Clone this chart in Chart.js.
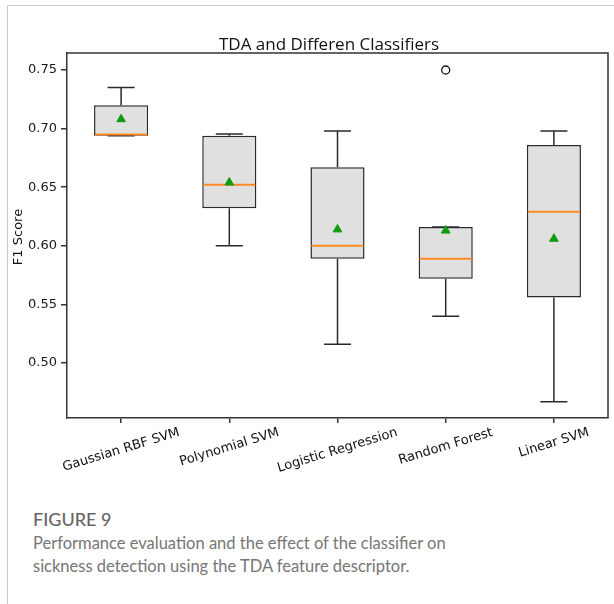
<!DOCTYPE html>
<html>
<head>
<meta charset="utf-8">
<script src="https://cdn.jsdelivr.net/npm/chart.js@4/dist/chart.umd.min.js"></script>
<style>
  body { margin: 0; background: #fff; }
  #page { position: relative; width: 614px; height: 604px; overflow: hidden; }
  #frame { position: absolute; left: 7px; top: 5px; width: 700px; height: 700px;
           border-left: 1.5px solid #cbcbcb; border-top: 1.5px solid #cbcbcb; }
  #boxChart { position: absolute; left: 0; top: 0; }
  #caption { position: absolute; left: 33px; top: 506px; font-family: "Lato", "Open Sans", sans-serif; color: #767676; }
  #caption .fig { font-size: 18px; font-weight: 500; color: #666; line-height: 26px; }
  #caption .txt { font-size: 16.5px; line-height: 23px; }
</style>
</head>
<body>
<div id="page">
  <div id="frame"></div>
  <canvas id="boxChart" width="614" height="490"></canvas>
  <div id="caption">
    <div class="fig">FIGURE 9</div>
    <div class="txt">Performance evaluation and the effect of the classifier on<br>sickness detection using the TDA feature descriptor.</div>
  </div>
</div>
<script>
const categories = ["Gaussian RBF SVM", "Polynomial SVM", "Logistic Regression", "Random Forest", "Linear SVM"];
const whiskerLow = [0.694, 0.600, 0.516, 0.540, 0.467];
const q1 = [0.694, 0.632, 0.589, 0.572, 0.556];
const medians = [0.695, 0.652, 0.600, 0.589, 0.629];
const q3 = [0.720, 0.694, 0.667, 0.616, 0.686];
const whiskerHigh = [0.735, 0.6955, 0.698, 0.616, 0.698];
const means = [0.708, 0.654, 0.614, 0.613, 0.606];
const outliers = [null, null, null, 0.750, null];
const yTicks = [0.50, 0.55, 0.60, 0.65, 0.70, 0.75];

const titleText = "TDA and Differen Classifiers";
const yLabel = "F1 Score";
const tickFont = "13px 'DejaVu Sans'";

// whiskers, caps, medians, frame and rotated labels
const boxPlotExtras = {
  id: "boxPlotExtras",
  afterDatasetDraw(chart, args) {
    if (args.index !== 0) return;
    const { ctx, scales: { x, y } } = chart;
    const bars = args.meta.data;
    ctx.save();
    categories.forEach((c, i) => {
      const cx = x.getPixelForValue(i);
      const half = bars[i].width / 2;
      const capHalf = half / 2;
      const yHi = y.getPixelForValue(whiskerHigh[i]);
      const yLo = y.getPixelForValue(whiskerLow[i]);
      ctx.strokeStyle = "#2a2a2a";
      ctx.lineWidth = 1.5;
      ctx.beginPath();
      ctx.moveTo(cx, y.getPixelForValue(q3[i]));
      ctx.lineTo(cx, yHi);
      ctx.moveTo(cx, y.getPixelForValue(q1[i]));
      ctx.lineTo(cx, yLo);
      ctx.moveTo(cx - capHalf, yHi);
      ctx.lineTo(cx + capHalf, yHi);
      ctx.moveTo(cx - capHalf, yLo);
      ctx.lineTo(cx + capHalf, yLo);
      ctx.stroke();

      const ym = y.getPixelForValue(medians[i]);
      ctx.strokeStyle = "#ff8a24";
      ctx.lineWidth = 2;
      ctx.beginPath();
      ctx.moveTo(cx - half + 1, ym);
      ctx.lineTo(cx + half - 1, ym);
      ctx.stroke();
    });
    ctx.restore();
  },
  afterDraw(chart) {
    const { ctx, chartArea: a, scales: { x } } = chart;
    ctx.save();
    // top and right edges of the axes box
    ctx.strokeStyle = "#333";
    ctx.lineWidth = 1.5;
    ctx.beginPath();
    ctx.moveTo(a.left, a.top);
    ctx.lineTo(a.right, a.top);
    ctx.lineTo(a.right, a.bottom);
    ctx.stroke();

    ctx.fillStyle = "#111";
    ctx.font = "17px 'Open Sans'";
    ctx.textAlign = "center";
    ctx.textBaseline = "alphabetic";
    ctx.fillText(titleText, 329, 50);

    ctx.font = tickFont;
    ctx.save();
    ctx.translate(19, 237);
    ctx.rotate(-Math.PI / 2);
    ctx.textBaseline = "middle";
    ctx.fillText(yLabel, 0, 0);
    ctx.restore();

    const ang = 17 * Math.PI / 180;
    const labelTop = a.bottom + 8;
    categories.forEach((c, i) => {
      const w = ctx.measureText(c).width;
      const h = 13;
      const boxH = w * Math.sin(ang) + h * Math.cos(ang);
      ctx.save();
      ctx.translate(x.getPixelForValue(i), labelTop + boxH / 2);
      ctx.rotate(-ang);
      ctx.textAlign = "center";
      ctx.textBaseline = "middle";
      ctx.fillText(c, 0, 0);
      ctx.restore();
    });
    ctx.restore();
  }
};

const ctx = document.getElementById("boxChart").getContext("2d");
const chart = new Chart(ctx, {
  type: "bar",
  data: {
    labels: categories,
    datasets: [
      {
        label: "box",
        data: categories.map((c, i) => [q1[i], q3[i]]),
        backgroundColor: "#e0e0e0",
        borderColor: "#2a2a2a",
        borderWidth: 1.5,
        borderSkipped: false,
        barPercentage: 0.5,
        categoryPercentage: 1,
        order: 3
      },
      {
        type: "line",
        label: "mean",
        data: means,
        showLine: false,
        pointStyle: "triangle",
        pointRadius: 5,
        pointBackgroundColor: "#109c10",
        pointBorderColor: "#109c10",
        pointBorderWidth: 1,
        order: 1
      },
      {
        type: "line",
        label: "outliers",
        data: outliers,
        showLine: false,
        pointStyle: "circle",
        pointRadius: 4,
        pointBackgroundColor: "#fff",
        pointBorderColor: "#111",
        pointBorderWidth: 1.3,
        order: 2
      }
    ]
  },
  options: {
    responsive: false,
    animation: false,
    layout: { padding: { left: 0, top: 53, right: 2, bottom: 0 } },
    plugins: {
      legend: { display: false },
      tooltip: { enabled: false },
      title: { display: false }
    },
    scales: {
      x: {
        offset: true,
        grid: { offset: false, drawOnChartArea: false, drawTicks: true, tickLength: 5, color: "#333", lineWidth: 1.5 },
        border: { display: true, color: "#333", width: 1.5 },
        ticks: { display: false },
        afterFit: scale => { scale.height = 72; }
      },
      y: {
        min: 0.4531,
        max: 0.7645,
        afterBuildTicks: scale => { scale.ticks = yTicks.map(v => ({ value: v })); },
        grid: { drawOnChartArea: false, drawTicks: true, tickLength: 6, color: "#333", lineWidth: 1.5 },
        border: { display: true, color: "#333", width: 1.5 },
        ticks: {
          font: { family: "DejaVu Sans", size: 13 },
          color: "#1a1a1a",
          padding: 4,
          callback: v => v.toFixed(2)
        },
        afterFit: scale => { scale.width = 67; }
      }
    }
  },
  plugins: [boxPlotExtras]
});
</script>
</body>
</html>
